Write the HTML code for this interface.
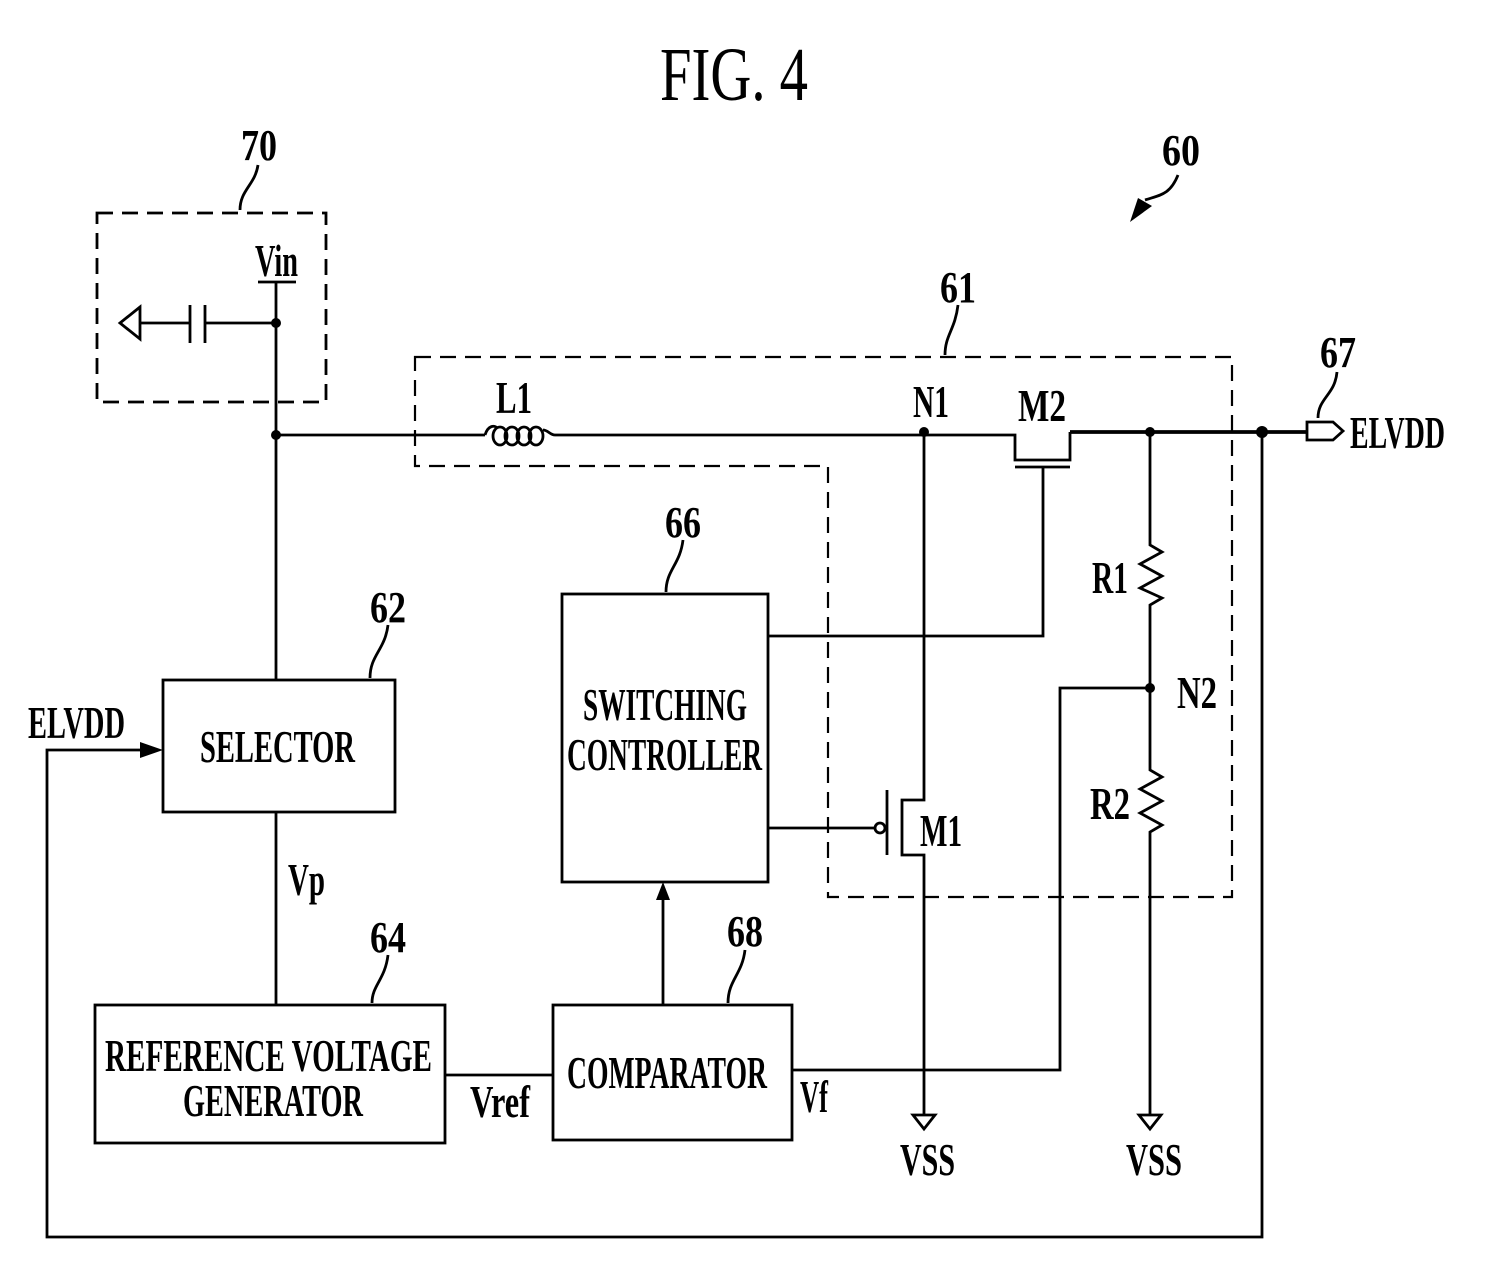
<!DOCTYPE html>
<html><head><meta charset="utf-8"><style>
html,body{margin:0;padding:0;background:#fff}
svg{display:block}
text{font-family:"Liberation Serif",serif;font-weight:bold;fill:#000}
</style></head><body>
<svg width="1488" height="1264" viewBox="0 0 1488 1264" xmlns="http://www.w3.org/2000/svg">
<g fill="none" stroke="#000" stroke-width="2.8">
<rect x="97" y="213" width="229" height="189" stroke-dasharray="16,9"/>
<path d="M415 357 H1232 V897 H828 V466 H415 Z" stroke-dasharray="16,9" stroke-width="2.2"/>
<path d="M258 165 C255 185 240 190 240 210"/>
<path d="M958 305 C955 330 945 335 945 355"/>
<path d="M388 625 C385 650 370 655 370 678"/>
<path d="M388 955 C385 980 372 985 372 1003"/>
<path d="M745 950 C742 975 728 980 728 1003"/>
<path d="M683 540 C680 565 666 570 666 592"/>
<path d="M1337 372 C1335 395 1318 398 1318 418"/>
<path d="M1178 175 C1170 195 1160 195 1145 200"/>
<path d="M258 282 H296"/>
<path d="M276 282 V680"/>
<path d="M276 323 H205 M205 305 V343 M190 305 V343 M190 323 H140"/>
<path d="M140 307 L120 323 L140 339 Z"/>
<path d="M276 435 H485"/>
<path d="M485 435 C488 425 495 425 497 428"/>
<ellipse cx="500" cy="436" rx="7" ry="9"/><ellipse cx="512" cy="436" rx="7" ry="9"/><ellipse cx="524" cy="436" rx="7" ry="9"/><ellipse cx="536" cy="436" rx="7" ry="9"/>
<path d="M543 430 C548 430 550 435 555 435 H1015 V460 H1070 V432"/>
<path d="M1070 432 H1307" stroke-width="3.8"/>
<path d="M1015 467 H1070"/>
<path d="M1043 467 V636 H768"/>
<path d="M1307 422 H1333 L1343 431 L1333 440 H1307 Z"/>
<path d="M924 432 V800 H902 V855 H924 V1115"/>
<path d="M887 790 V855"/>
<path d="M768 828 H874"/>
<circle cx="880" cy="828" r="5"/>
<path d="M913 1115 H935 L924 1129 Z"/>
<path d="M1150 432 V545 L1162 552 L1140 564 L1162 576 L1140 588 L1162 598 L1150 605 V770 L1162 777 L1140 789 L1162 801 L1140 813 L1162 825 L1150 832 V1115"/>
<path d="M1139 1115 H1161 L1150 1129 Z"/>
<path d="M1150 688 H1060 V1070 H792"/>
<path d="M1262 435 V1237 H47 V750 H150"/>
<rect x="163" y="680" width="232" height="132"/>
<path d="M276 812 V1005"/>
<rect x="95" y="1005" width="350" height="138"/>
<path d="M445 1075 H553"/>
<rect x="553" y="1005" width="239" height="135"/>
<path d="M663 1005 V896"/>
<rect x="562" y="594" width="206" height="288"/>
</g>
<g fill="#000">
<circle cx="276" cy="323" r="5"/><circle cx="276" cy="435" r="5"/>
<circle cx="924" cy="432" r="5"/><circle cx="1150" cy="432" r="5"/>
<circle cx="1262" cy="432" r="6"/><circle cx="1150" cy="688" r="5"/>
<path d="M163 750 L140 742 L140 758 Z"/>
<path d="M663 882 L656 900 L670 900 Z"/>
<path d="M1130 222 L1138 198 L1152 206 Z"/>
</g>
<text x="660" y="100" font-size="76" style="font-weight:normal" textLength="148" lengthAdjust="spacingAndGlyphs">FIG. 4</text>
<g font-size="44">
<text x="241" y="160" textLength="36" lengthAdjust="spacingAndGlyphs">70</text>
<text x="1162" y="165" textLength="38" lengthAdjust="spacingAndGlyphs">60</text>
<text x="940" y="302" textLength="36" lengthAdjust="spacingAndGlyphs">61</text>
<text x="1320" y="367" textLength="36" lengthAdjust="spacingAndGlyphs">67</text>
<text x="370" y="622" textLength="36" lengthAdjust="spacingAndGlyphs">62</text>
<text x="665" y="537" textLength="36" lengthAdjust="spacingAndGlyphs">66</text>
<text x="370" y="952" textLength="36" lengthAdjust="spacingAndGlyphs">64</text>
<text x="727" y="946" textLength="36" lengthAdjust="spacingAndGlyphs">68</text>
</g>
<g font-size="46">
<text x="255" y="276" textLength="43" lengthAdjust="spacingAndGlyphs">Vin</text>
<text x="496" y="413" textLength="36" lengthAdjust="spacingAndGlyphs">L1</text>
<text x="913" y="417" textLength="36" lengthAdjust="spacingAndGlyphs">N1</text>
<text x="1018" y="421" textLength="48" lengthAdjust="spacingAndGlyphs">M2</text>
<text x="1350" y="448" textLength="95" lengthAdjust="spacingAndGlyphs">ELVDD</text>
<text x="1092" y="593" textLength="36" lengthAdjust="spacingAndGlyphs">R1</text>
<text x="1177" y="708" textLength="40" lengthAdjust="spacingAndGlyphs">N2</text>
<text x="1090" y="819" textLength="40" lengthAdjust="spacingAndGlyphs">R2</text>
<text x="920" y="846" textLength="42" lengthAdjust="spacingAndGlyphs">M1</text>
<text x="28" y="738" textLength="97" lengthAdjust="spacingAndGlyphs">ELVDD</text>
<text x="288" y="895" textLength="37" lengthAdjust="spacingAndGlyphs">Vp</text>
<text x="470" y="1117" textLength="60" lengthAdjust="spacingAndGlyphs">Vref</text>
<text x="800" y="1112" textLength="28" lengthAdjust="spacingAndGlyphs">Vf</text>
<text x="900" y="1175" textLength="55" lengthAdjust="spacingAndGlyphs">VSS</text>
<text x="1126" y="1175" textLength="56" lengthAdjust="spacingAndGlyphs">VSS</text>
<text x="200" y="762" textLength="155" lengthAdjust="spacingAndGlyphs">SELECTOR</text>
<text x="583" y="720" textLength="164" lengthAdjust="spacingAndGlyphs">SWITCHING</text>
<text x="567" y="770" textLength="195" lengthAdjust="spacingAndGlyphs">CONTROLLER</text>
<text x="105" y="1071" textLength="327" lengthAdjust="spacingAndGlyphs">REFERENCE VOLTAGE</text>
<text x="183" y="1116" textLength="180" lengthAdjust="spacingAndGlyphs">GENERATOR</text>
<text x="567" y="1088" textLength="200" lengthAdjust="spacingAndGlyphs">COMPARATOR</text>
</g>
</svg>
</body></html>
